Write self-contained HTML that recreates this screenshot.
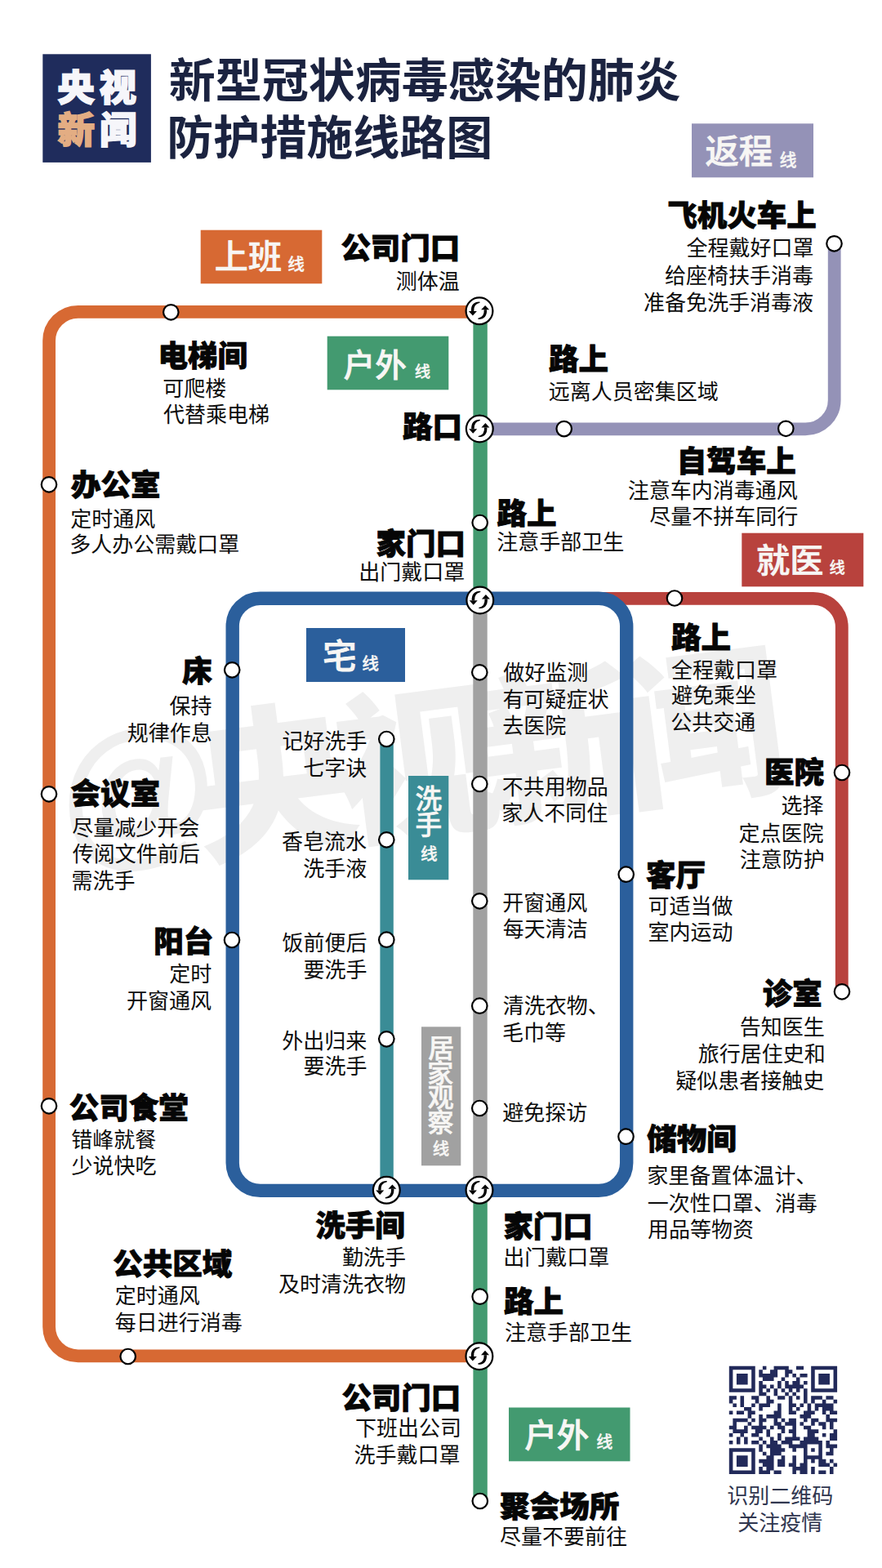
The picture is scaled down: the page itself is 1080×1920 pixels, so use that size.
<!DOCTYPE html>
<html lang="zh-CN">
<head>
<meta charset="utf-8">
<title>新型冠状病毒感染的肺炎防护措施线路图</title>
<style>
html,body{margin:0;padding:0;background:#fff}
body{width:1080px;height:1920px;position:relative;overflow:hidden;font-family:"Liberation Sans",sans-serif}
#map{position:absolute;left:0;top:0;width:1080px;height:1920px;display:block}
#map text{font-family:"Liberation Sans","Noto Sans CJK SC",sans-serif}
#map text.h{font-size:36.5px;font-weight:900;fill:#060606;stroke:#060606;stroke-width:0.88px}
#map text.d{font-size:26px;font-weight:400;fill:#0d0d0d}
#map text.q{font-size:26px;font-weight:400;fill:#30364f}
#map text.l{font-weight:500;fill:#f7f6f4;stroke:#f7f6f4}
#txt{position:absolute;left:0;top:0;width:1080px;height:1920px}
#txt span{position:absolute;white-space:nowrap;color:transparent;font-family:"Liberation Sans",sans-serif}
</style>
</head>
<body>
<svg id="map" width="1080" height="1920" viewBox="0 0 1080 1920" role="img" aria-label="新型冠状病毒感染的肺炎防护措施线路图">
<rect width="1080" height="1920" fill="#fff"/>
<g fill="#efefef"><text transform="translate(80 1046) rotate(-7.3)" font-size="200" font-weight="900">@</text><text transform="translate(245.5 1044.5) rotate(-7.3)" font-size="200" font-weight="900" letter-spacing="-24">央视新闻</text></g>
<path d="M587 732.8H995.8a35 35 0 0 1 35 35V1214" fill="none" stroke="#b8423d" stroke-width="15.8"/>
<path d="M318.7 732.7H733.2a34 34 0 0 1 34 34V1423.9a34 34 0 0 1 -34 34H318.7a34 34 0 0 1 -34 -34V766.7a34 34 0 0 1 34 -34z" fill="none" stroke="#2b5f9c" stroke-width="16.4"/>
<path d="M588 735V1457" fill="none" stroke="#a1a1a1" stroke-width="17.4"/>
<path d="M473.6 905V1457" fill="none" stroke="#3a8c96" stroke-width="16.4"/>
<path d="M588.1 381V735" fill="none" stroke="#439a70" stroke-width="17.4"/>
<path d="M588.1 1457V1838" fill="none" stroke="#439a70" stroke-width="17.4"/>
<path d="M587 381.8H95.6a35.5 35.5 0 0 0 -35.5 35.5V1624.8a35.5 35.5 0 0 0 35.5 35.5H587" fill="none" stroke="#d76933" stroke-width="15.8"/>
<path d="M1021.7 298V489.9a35.5 35.5 0 0 1 -35.5 35.5H587" fill="none" stroke="#9492b7" stroke-width="15.8"/>
<rect x="847" y="151.3" width="149" height="66" fill="#9492b7"/>
<text class="l" x="863.44" y="199.86" font-size="41.43" stroke-width="0.75">返程</text>
<text class="l" x="954.39" y="203.39" font-size="21.02" stroke-width="0.38">线</text>
<rect x="245.7" y="281.7" width="148.6" height="65.6" fill="#d76933"/>
<text class="l" x="262.86" y="328.95" font-size="41.09" stroke-width="0.74">上班</text>
<text class="l" x="352.26" y="331.26" font-size="20.68" stroke-width="0.37">线</text>
<rect x="400.7" y="411.7" width="148.6" height="65.6" fill="#439a70"/>
<text class="l" x="420.49" y="461.32" font-size="38.67" stroke-width="0.7">户外</text>
<text class="l" x="507.71" y="462.11" font-size="19.38" stroke-width="0.35">线</text>
<rect x="908.3" y="652.7" width="149" height="65.6" fill="#b8423d"/>
<text class="l" x="926.06" y="700.64" font-size="41.15" stroke-width="0.74">就医</text>
<text class="l" x="1015.59" y="701.59" font-size="19.33" stroke-width="0.35">线</text>
<rect x="375" y="769" width="121" height="66" fill="#2b5f9c"/>
<text class="l" x="395.04" y="819.31" font-size="41.78" stroke-width="0.75">宅</text>
<text class="l" x="443.21" y="819.91" font-size="20.68" stroke-width="0.37">线</text>
<rect x="623" y="1723.5" width="148.5" height="65.8" fill="#439a70"/>
<text class="l" x="642.17" y="1771.89" font-size="39.64" stroke-width="0.71">户外</text>
<text class="l" x="730.22" y="1772.82" font-size="20.06" stroke-width="0.36">线</text>
<rect x="500" y="950" width="49.3" height="127.3" fill="#3a8c96"/>
<text class="l" x="508.43" y="990.27" font-size="32.69" stroke-width="0.59">洗</text>
<text class="l" x="508.62" y="1021.62" font-size="32.69" stroke-width="0.59">手</text>
<text class="l" x="514.94" y="1052.54" font-size="20.62" stroke-width="0.37">线</text>
<rect x="516" y="1257.3" width="48.3" height="170" fill="#a1a1a1"/>
<text class="l" x="524.13" y="1294.65" font-size="32" stroke-width="0.58">居</text>
<text class="l" x="523.25" y="1325.67" font-size="32" stroke-width="0.58">家</text>
<text class="l" x="523.68" y="1354.78" font-size="32" stroke-width="0.58">观</text>
<text class="l" x="523.55" y="1385.99" font-size="32" stroke-width="0.58">察</text>
<text class="l" x="529.67" y="1413.97" font-size="20.45" stroke-width="0.37">线</text>
<circle cx="209.3" cy="382.3" r="9.25" fill="#fff" stroke="#000" stroke-width="2.2"/>
<circle cx="60" cy="593.3" r="9.25" fill="#fff" stroke="#000" stroke-width="2.2"/>
<circle cx="60" cy="972.3" r="9.25" fill="#fff" stroke="#000" stroke-width="2.2"/>
<circle cx="60" cy="1354.3" r="9.25" fill="#fff" stroke="#000" stroke-width="2.2"/>
<circle cx="156.7" cy="1661" r="9.25" fill="#fff" stroke="#000" stroke-width="2.2"/>
<circle cx="1021.5" cy="298.3" r="9.25" fill="#fff" stroke="#000" stroke-width="2.2"/>
<circle cx="962.3" cy="524.8" r="9.25" fill="#fff" stroke="#000" stroke-width="2.2"/>
<circle cx="690.7" cy="525.1" r="9.25" fill="#fff" stroke="#000" stroke-width="2.2"/>
<circle cx="587.7" cy="640" r="9.25" fill="#fff" stroke="#000" stroke-width="2.2"/>
<circle cx="587.7" cy="1587.7" r="9.25" fill="#fff" stroke="#000" stroke-width="2.2"/>
<circle cx="587.8" cy="1838" r="9.25" fill="#fff" stroke="#000" stroke-width="2.2"/>
<circle cx="826" cy="732.5" r="9.25" fill="#fff" stroke="#000" stroke-width="2.2"/>
<circle cx="1031" cy="946" r="9.25" fill="#fff" stroke="#000" stroke-width="2.2"/>
<circle cx="1031" cy="1214.3" r="9.25" fill="#fff" stroke="#000" stroke-width="2.2"/>
<circle cx="284.2" cy="820.3" r="9.25" fill="#fff" stroke="#000" stroke-width="2.2"/>
<circle cx="284" cy="1151" r="9.25" fill="#fff" stroke="#000" stroke-width="2.2"/>
<circle cx="766.7" cy="1070.7" r="9.25" fill="#fff" stroke="#000" stroke-width="2.2"/>
<circle cx="766.5" cy="1391.7" r="9.25" fill="#fff" stroke="#000" stroke-width="2.2"/>
<circle cx="473.3" cy="905" r="9.25" fill="#fff" stroke="#000" stroke-width="2.2"/>
<circle cx="473.3" cy="1028.3" r="9.25" fill="#fff" stroke="#000" stroke-width="2.2"/>
<circle cx="473.3" cy="1150.7" r="9.25" fill="#fff" stroke="#000" stroke-width="2.2"/>
<circle cx="473.3" cy="1272.3" r="9.25" fill="#fff" stroke="#000" stroke-width="2.2"/>
<circle cx="587.3" cy="823.3" r="9.25" fill="#fff" stroke="#000" stroke-width="2.2"/>
<circle cx="587.3" cy="960" r="9.25" fill="#fff" stroke="#000" stroke-width="2.2"/>
<circle cx="587.3" cy="1103.3" r="9.25" fill="#fff" stroke="#000" stroke-width="2.2"/>
<circle cx="587.3" cy="1231.7" r="9.25" fill="#fff" stroke="#000" stroke-width="2.2"/>
<circle cx="587.3" cy="1357" r="9.25" fill="#fff" stroke="#000" stroke-width="2.2"/>
<defs><g id="ic"><circle r="16.4" fill="#fff" stroke="#000" stroke-width="2.2"/><g id="ar"><path d="M0.4 -11.3Q-10.6 -11.4 -10.1 0.3H-6.7Q-7.4 -8.6 0.6 -10.1z"/><path d="M-13.1 0.3H-3.1L-8.1 5.7z"/></g><use href="#ar" transform="rotate(180 -0.5 -0.6)"/></g></defs>
<use href="#ic" x="587" y="380.8"/>
<use href="#ic" x="587.3" y="525"/>
<use href="#ic" x="587.8" y="735"/>
<use href="#ic" x="473.3" y="1457.3"/>
<use href="#ic" x="587" y="1457.3"/>
<use href="#ic" x="586.9" y="1660.7"/>
<rect x="52.3" y="66.3" width="132.6" height="132.6" fill="#1f2c5c"/>
<text x="70.21" y="124.11" font-size="45.6" font-weight="900" letter-spacing="5.8" fill="#f6f6fa" stroke="#f6f6fa" stroke-width="1.55">央视</text>
<text x="70.58" y="176.21" font-size="45.6" font-weight="900" letter-spacing="5.8" stroke-width="1.55"><tspan fill="#e3ad83" stroke="#e3ad83">新</tspan><tspan fill="#f6f6fa" stroke="#f6f6fa">闻</tspan></text>
<text x="206.82" y="119.1" font-size="57" font-weight="700" fill="#1b2340">新型冠状病毒感染的肺炎</text>
<text x="204.2" y="188.87" font-size="57" font-weight="700" fill="#1b2340">防护措施线路图</text>
<text class="h" x="417.39" y="317.29">公司门口</text>
<text class="d" x="484.74" y="353.57">测体温</text>
<text class="h" x="817.19" y="276.55">飞机火车上</text>
<text class="d" x="840.48" y="313.3">全程戴好口罩</text>
<text class="d" x="814.09" y="346.57">给座椅扶手消毒</text>
<text class="d" x="787.99" y="379.91">准备免洗手消毒液</text>
<text class="h" x="193.58" y="449.37">电梯间</text>
<text class="d" x="199.22" y="484.52">可爬楼</text>
<text class="d" x="200.1" y="516.54">代替乘电梯</text>
<text class="h" x="671.97" y="452.94">路上</text>
<text class="d" x="671.63" y="489.31">远离人员密集区域</text>
<text class="h" x="493.09" y="536.09">路口</text>
<text class="h" x="828.69" y="577.79">自驾车上</text>
<text class="d" x="768.81" y="610.27">注意车内消毒通风</text>
<text class="d" x="795.2" y="641.88">尽量不拼车同行</text>
<text class="h" x="87.12" y="607">办公室</text>
<text class="d" x="86.31" y="644.92">定时通风</text>
<text class="d" x="85.25" y="675.97">多人办公需戴口罩</text>
<text class="h" x="608.57" y="641.79">路上</text>
<text class="d" x="608.18" y="673.11">注意手部卫生</text>
<text class="h" x="460.59" y="678.8">家门口</text>
<text class="d" x="439.18" y="709.8">出门戴口罩</text>
<text class="h" x="223.13" y="835.41">床</text>
<text class="d" x="207.39" y="873.72">保持</text>
<text class="d" x="155.81" y="907.16">规律作息</text>
<text class="d" x="616.21" y="832.7">做好监测</text>
<text class="d" x="615.58" y="866">有可疑症状</text>
<text class="d" x="615.3" y="898.35">去医院</text>
<text class="h" x="821.97" y="793.64">路上</text>
<text class="d" x="821.97" y="830.25">全程戴口罩</text>
<text class="d" x="821.92" y="861.23">避免乘坐</text>
<text class="d" x="821.32" y="893.81">公共交通</text>
<text class="d" x="345.57" y="917.02">记好洗手</text>
<text class="d" x="371.21" y="949.95">七字诀</text>
<text class="d" x="614.8" y="972.68">不共用物品</text>
<text class="d" x="614.34" y="1004.93">家人不同住</text>
<text class="h" x="935.92" y="959.37">医院</text>
<text class="d" x="956.43" y="996.25">选择</text>
<text class="d" x="904.61" y="1029.94">定点医院</text>
<text class="d" x="905.7" y="1061.97">注意防护</text>
<text class="h" x="86.61" y="985.04">会议室</text>
<text class="d" x="88.34" y="1023.17">尽量减少开会</text>
<text class="d" x="88.81" y="1055.23">传阅文件前后</text>
<text class="d" x="87.58" y="1087.87">需洗手</text>
<text class="d" x="344.98" y="1040.37">香皂流水</text>
<text class="d" x="371.29" y="1072.76">洗手液</text>
<text class="h" x="790.9" y="1084.52">客厅</text>
<text class="d" x="793.52" y="1118.57">可适当做</text>
<text class="d" x="793.47" y="1151.27">室内运动</text>
<text class="d" x="615.3" y="1114.59">开窗通风</text>
<text class="d" x="615.63" y="1146.6">每天清洁</text>
<text class="h" x="188.16" y="1166.33">阳台</text>
<text class="d" x="207.34" y="1201.92">定时</text>
<text class="d" x="155.11" y="1234.59">开窗通风</text>
<text class="d" x="345.55" y="1163.76">饭前便后</text>
<text class="d" x="371.57" y="1197.02">要洗手</text>
<text class="h" x="933.86" y="1229.64">诊室</text>
<text class="d" x="905.65" y="1266.76">告知医生</text>
<text class="d" x="854.87" y="1300.39">旅行居住史和</text>
<text class="d" x="827.31" y="1332.69">疑似患者接触史</text>
<text class="d" x="615.76" y="1241.22">清洗衣物、</text>
<text class="d" x="615.09" y="1273.77">毛巾等</text>
<text class="d" x="345.18" y="1283.7">外出归来</text>
<text class="d" x="371.57" y="1315.37">要洗手</text>
<text class="h" x="84.87" y="1369.87">公司食堂</text>
<text class="d" x="87.23" y="1405.19">错峰就餐</text>
<text class="d" x="87.39" y="1436.84">少说快吃</text>
<text class="d" x="615.22" y="1372.06">避免探访</text>
<text class="h" x="792.37" y="1407.85">储物间</text>
<text class="d" x="792.34" y="1449.44">家里备置体温计、</text>
<text class="d" x="792.83" y="1483.19">一次性口罩、消毒</text>
<text class="d" x="793.12" y="1515.38">用品等物资</text>
<text class="h" x="386.22" y="1514.44">洗手间</text>
<text class="d" x="418.97" y="1548.53">勤洗手</text>
<text class="d" x="341.05" y="1581.57">及时清洗衣物</text>
<text class="h" x="616.39" y="1514.6">家门口</text>
<text class="d" x="616.19" y="1548.5">出门戴口罩</text>
<text class="h" x="138.17" y="1561.15">公共区域</text>
<text class="d" x="140.71" y="1596.07">定时通风</text>
<text class="d" x="140.63" y="1628.62">每日进行消毒</text>
<text class="h" x="616.97" y="1607.29">路上</text>
<text class="d" x="617.88" y="1640.66">注意手部卫生</text>
<text class="h" x="418.39" y="1725.09">公司门口</text>
<text class="d" x="434.89" y="1758.38">下班出公司</text>
<text class="d" x="433.38" y="1790.75">洗手戴口罩</text>
<text class="h" x="612.16" y="1858.32">聚会场所</text>
<text class="d" x="612.04" y="1891.18">尽量不要前往</text>
<text class="q" x="890.13" y="1840.55">识别二维码</text>
<text class="q" x="903.3" y="1874.18">关注疫情</text>
<path d="M892.8 1672.8h31.93v4.56h-31.93zM933.86 1672.8h4.56v4.56h-4.56zM947.54 1672.8h18.25v4.56h-18.25zM974.92 1672.8h9.12v4.56h-9.12zM993.17 1672.8h31.93v4.56h-31.93zM892.8 1677.36h4.56v4.56h-4.56zM920.17 1677.36h4.56v4.56h-4.56zM929.3 1677.36h4.56v4.56h-4.56zM942.98 1677.36h9.12v4.56h-9.12zM961.23 1677.36h9.12v4.56h-9.12zM993.17 1677.36h4.56v4.56h-4.56zM1020.54 1677.36h4.56v4.56h-4.56zM892.8 1681.92h4.56v4.56h-4.56zM901.92 1681.92h13.69v4.56h-13.69zM920.17 1681.92h4.56v4.56h-4.56zM929.3 1681.92h22.81v4.56h-22.81zM961.23 1681.92h4.56v4.56h-4.56zM970.36 1681.92h4.56v4.56h-4.56zM979.48 1681.92h9.12v4.56h-9.12zM993.17 1681.92h4.56v4.56h-4.56zM1002.29 1681.92h13.69v4.56h-13.69zM1020.54 1681.92h4.56v4.56h-4.56zM892.8 1686.49h4.56v4.56h-4.56zM901.92 1686.49h13.69v4.56h-13.69zM920.17 1686.49h4.56v4.56h-4.56zM933.86 1686.49h13.69v4.56h-13.69zM956.67 1686.49h4.56v4.56h-4.56zM974.92 1686.49h4.56v4.56h-4.56zM993.17 1686.49h4.56v4.56h-4.56zM1002.29 1686.49h13.69v4.56h-13.69zM1020.54 1686.49h4.56v4.56h-4.56zM892.8 1691.05h4.56v4.56h-4.56zM901.92 1691.05h13.69v4.56h-13.69zM920.17 1691.05h4.56v4.56h-4.56zM929.3 1691.05h4.56v4.56h-4.56zM952.11 1691.05h4.56v4.56h-4.56zM961.23 1691.05h4.56v4.56h-4.56zM970.36 1691.05h9.12v4.56h-9.12zM984.04 1691.05h4.56v4.56h-4.56zM993.17 1691.05h4.56v4.56h-4.56zM1002.29 1691.05h13.69v4.56h-13.69zM1020.54 1691.05h4.56v4.56h-4.56zM892.8 1695.61h4.56v4.56h-4.56zM920.17 1695.61h4.56v4.56h-4.56zM929.3 1695.61h9.12v4.56h-9.12zM942.98 1695.61h4.56v4.56h-4.56zM952.11 1695.61h4.56v4.56h-4.56zM961.23 1695.61h22.81v4.56h-22.81zM993.17 1695.61h4.56v4.56h-4.56zM1020.54 1695.61h4.56v4.56h-4.56zM892.8 1700.17h31.93v4.56h-31.93zM929.3 1700.17h4.56v4.56h-4.56zM938.42 1700.17h4.56v4.56h-4.56zM947.54 1700.17h4.56v4.56h-4.56zM956.67 1700.17h4.56v4.56h-4.56zM965.79 1700.17h4.56v4.56h-4.56zM974.92 1700.17h4.56v4.56h-4.56zM984.04 1700.17h4.56v4.56h-4.56zM993.17 1700.17h31.93v4.56h-31.93zM929.3 1704.73h9.12v4.56h-9.12zM947.54 1704.73h4.56v4.56h-4.56zM961.23 1704.73h4.56v4.56h-4.56zM970.36 1704.73h4.56v4.56h-4.56zM984.04 1704.73h4.56v4.56h-4.56zM892.8 1709.3h9.12v4.56h-9.12zM906.49 1709.3h4.56v4.56h-4.56zM920.17 1709.3h9.12v4.56h-9.12zM938.42 1709.3h4.56v4.56h-4.56zM952.11 1709.3h9.12v4.56h-9.12zM965.79 1709.3h4.56v4.56h-4.56zM974.92 1709.3h4.56v4.56h-4.56zM984.04 1709.3h4.56v4.56h-4.56zM993.17 1709.3h13.69v4.56h-13.69zM1011.41 1709.3h9.12v4.56h-9.12zM892.8 1713.86h4.56v4.56h-4.56zM906.49 1713.86h4.56v4.56h-4.56zM924.73 1713.86h4.56v4.56h-4.56zM938.42 1713.86h9.12v4.56h-9.12zM965.79 1713.86h4.56v4.56h-4.56zM984.04 1713.86h4.56v4.56h-4.56zM993.17 1713.86h4.56v4.56h-4.56zM1006.85 1713.86h4.56v4.56h-4.56zM1020.54 1713.86h4.56v4.56h-4.56zM897.36 1718.42h4.56v4.56h-4.56zM906.49 1718.42h4.56v4.56h-4.56zM920.17 1718.42h4.56v4.56h-4.56zM929.3 1718.42h13.69v4.56h-13.69zM952.11 1718.42h4.56v4.56h-4.56zM965.79 1718.42h9.12v4.56h-9.12zM979.48 1718.42h4.56v4.56h-4.56zM988.6 1718.42h4.56v4.56h-4.56zM997.73 1718.42h22.81v4.56h-22.81zM911.05 1722.98h9.12v4.56h-9.12zM929.3 1722.98h4.56v4.56h-4.56zM952.11 1722.98h4.56v4.56h-4.56zM965.79 1722.98h4.56v4.56h-4.56zM974.92 1722.98h4.56v4.56h-4.56zM988.6 1722.98h4.56v4.56h-4.56zM997.73 1722.98h4.56v4.56h-4.56zM1006.85 1722.98h13.69v4.56h-13.69zM892.8 1727.54h4.56v4.56h-4.56zM901.92 1727.54h9.12v4.56h-9.12zM915.61 1727.54h9.12v4.56h-9.12zM947.54 1727.54h9.12v4.56h-9.12zM965.79 1727.54h9.12v4.56h-9.12zM984.04 1727.54h13.69v4.56h-13.69zM1006.85 1727.54h4.56v4.56h-4.56zM1015.98 1727.54h9.12v4.56h-9.12zM915.61 1732.11h4.56v4.56h-4.56zM929.3 1732.11h4.56v4.56h-4.56zM938.42 1732.11h18.25v4.56h-18.25zM979.48 1732.11h13.69v4.56h-13.69zM1011.41 1732.11h4.56v4.56h-4.56zM897.36 1736.67h18.25v4.56h-18.25zM920.17 1736.67h4.56v4.56h-4.56zM929.3 1736.67h9.12v4.56h-9.12zM947.54 1736.67h4.56v4.56h-4.56zM956.67 1736.67h4.56v4.56h-4.56zM965.79 1736.67h9.12v4.56h-9.12zM984.04 1736.67h4.56v4.56h-4.56zM993.17 1736.67h9.12v4.56h-9.12zM1011.41 1736.67h13.69v4.56h-13.69zM897.36 1741.23h4.56v4.56h-4.56zM915.61 1741.23h4.56v4.56h-4.56zM929.3 1741.23h4.56v4.56h-4.56zM947.54 1741.23h9.12v4.56h-9.12zM961.23 1741.23h13.69v4.56h-13.69zM979.48 1741.23h4.56v4.56h-4.56zM993.17 1741.23h4.56v4.56h-4.56zM1002.29 1741.23h9.12v4.56h-9.12zM1015.98 1741.23h4.56v4.56h-4.56zM892.8 1745.79h9.12v4.56h-9.12zM911.05 1745.79h4.56v4.56h-4.56zM920.17 1745.79h18.25v4.56h-18.25zM942.98 1745.79h4.56v4.56h-4.56zM952.11 1745.79h9.12v4.56h-9.12zM970.36 1745.79h4.56v4.56h-4.56zM984.04 1745.79h9.12v4.56h-9.12zM1006.85 1745.79h4.56v4.56h-4.56zM1015.98 1745.79h4.56v4.56h-4.56zM897.36 1750.36h18.25v4.56h-18.25zM924.73 1750.36h9.12v4.56h-9.12zM938.42 1750.36h4.56v4.56h-4.56zM956.67 1750.36h4.56v4.56h-4.56zM965.79 1750.36h9.12v4.56h-9.12zM988.6 1750.36h13.69v4.56h-13.69zM1020.54 1750.36h4.56v4.56h-4.56zM892.8 1754.92h4.56v4.56h-4.56zM906.49 1754.92h4.56v4.56h-4.56zM920.17 1754.92h9.12v4.56h-9.12zM938.42 1754.92h4.56v4.56h-4.56zM952.11 1754.92h4.56v4.56h-4.56zM970.36 1754.92h4.56v4.56h-4.56zM988.6 1754.92h9.12v4.56h-9.12zM1006.85 1754.92h4.56v4.56h-4.56zM1015.98 1754.92h9.12v4.56h-9.12zM901.92 1759.48h4.56v4.56h-4.56zM911.05 1759.48h4.56v4.56h-4.56zM929.3 1759.48h4.56v4.56h-4.56zM942.98 1759.48h4.56v4.56h-4.56zM952.11 1759.48h4.56v4.56h-4.56zM961.23 1759.48h18.25v4.56h-18.25zM984.04 1759.48h18.25v4.56h-18.25zM1015.98 1759.48h9.12v4.56h-9.12zM892.8 1764.04h4.56v4.56h-4.56zM901.92 1764.04h4.56v4.56h-4.56zM911.05 1764.04h4.56v4.56h-4.56zM920.17 1764.04h9.12v4.56h-9.12zM933.86 1764.04h4.56v4.56h-4.56zM942.98 1764.04h9.12v4.56h-9.12zM956.67 1764.04h13.69v4.56h-13.69zM979.48 1764.04h27.37v4.56h-27.37zM1011.41 1764.04h4.56v4.56h-4.56zM929.3 1768.6h4.56v4.56h-4.56zM938.42 1768.6h18.25v4.56h-18.25zM965.79 1768.6h22.81v4.56h-22.81zM1002.29 1768.6h4.56v4.56h-4.56zM1011.41 1768.6h13.69v4.56h-13.69zM892.8 1773.17h31.93v4.56h-31.93zM929.3 1773.17h4.56v4.56h-4.56zM942.98 1773.17h18.25v4.56h-18.25zM970.36 1773.17h4.56v4.56h-4.56zM984.04 1773.17h4.56v4.56h-4.56zM993.17 1773.17h4.56v4.56h-4.56zM1002.29 1773.17h4.56v4.56h-4.56zM1015.98 1773.17h4.56v4.56h-4.56zM892.8 1777.73h4.56v4.56h-4.56zM920.17 1777.73h4.56v4.56h-4.56zM933.86 1777.73h4.56v4.56h-4.56zM942.98 1777.73h13.69v4.56h-13.69zM984.04 1777.73h4.56v4.56h-4.56zM1002.29 1777.73h4.56v4.56h-4.56zM1011.41 1777.73h9.12v4.56h-9.12zM892.8 1782.29h4.56v4.56h-4.56zM901.92 1782.29h13.69v4.56h-13.69zM920.17 1782.29h4.56v4.56h-4.56zM938.42 1782.29h9.12v4.56h-9.12zM956.67 1782.29h4.56v4.56h-4.56zM970.36 1782.29h4.56v4.56h-4.56zM984.04 1782.29h22.81v4.56h-22.81zM892.8 1786.85h4.56v4.56h-4.56zM901.92 1786.85h13.69v4.56h-13.69zM920.17 1786.85h4.56v4.56h-4.56zM929.3 1786.85h18.25v4.56h-18.25zM952.11 1786.85h9.12v4.56h-9.12zM970.36 1786.85h4.56v4.56h-4.56zM984.04 1786.85h4.56v4.56h-4.56zM993.17 1786.85h4.56v4.56h-4.56zM1002.29 1786.85h9.12v4.56h-9.12zM1015.98 1786.85h4.56v4.56h-4.56zM892.8 1791.41h4.56v4.56h-4.56zM901.92 1791.41h13.69v4.56h-13.69zM920.17 1791.41h4.56v4.56h-4.56zM933.86 1791.41h13.69v4.56h-13.69zM952.11 1791.41h9.12v4.56h-9.12zM965.79 1791.41h9.12v4.56h-9.12zM979.48 1791.41h9.12v4.56h-9.12zM1002.29 1791.41h13.69v4.56h-13.69zM1020.54 1791.41h4.56v4.56h-4.56zM892.8 1795.98h4.56v4.56h-4.56zM920.17 1795.98h4.56v4.56h-4.56zM929.3 1795.98h4.56v4.56h-4.56zM938.42 1795.98h9.12v4.56h-9.12zM970.36 1795.98h18.25v4.56h-18.25zM993.17 1795.98h4.56v4.56h-4.56zM1015.98 1795.98h4.56v4.56h-4.56zM892.8 1800.54h31.93v4.56h-31.93zM929.3 1800.54h13.69v4.56h-13.69zM947.54 1800.54h9.12v4.56h-9.12zM970.36 1800.54h4.56v4.56h-4.56zM979.48 1800.54h9.12v4.56h-9.12zM993.17 1800.54h4.56v4.56h-4.56zM1002.29 1800.54h9.12v4.56h-9.12zM1015.98 1800.54h4.56v4.56h-4.56z" fill="#222a5a"/>
</svg>
<div id="txt">
<span style="left:70.21px;top:83.98px;font-size:45.6px;line-height:45.6px;letter-spacing:5.8px">央视</span>
<span style="left:70.58px;top:136.08px;font-size:45.6px;line-height:45.6px;letter-spacing:5.8px">新闻</span>
<span style="left:206.82px;top:68.94px;font-size:57px;line-height:57px">新型冠状病毒感染的肺炎</span>
<span style="left:204.2px;top:138.71px;font-size:57px;line-height:57px">防护措施线路图</span>
<span style="left:417.39px;top:285.17px;font-size:36.5px;line-height:36.5px">公司门口</span>
<span style="left:484.74px;top:330.69px;font-size:26px;line-height:26px">测体温</span>
<span style="left:817.19px;top:244.43px;font-size:36.5px;line-height:36.5px">飞机火车上</span>
<span style="left:840.48px;top:290.42px;font-size:26px;line-height:26px">全程戴好口罩</span>
<span style="left:814.09px;top:323.69px;font-size:26px;line-height:26px">给座椅扶手消毒</span>
<span style="left:787.99px;top:357.03px;font-size:26px;line-height:26px">准备免洗手消毒液</span>
<span style="left:193.58px;top:417.25px;font-size:36.5px;line-height:36.5px">电梯间</span>
<span style="left:199.22px;top:461.64px;font-size:26px;line-height:26px">可爬楼</span>
<span style="left:200.1px;top:493.66px;font-size:26px;line-height:26px">代替乘电梯</span>
<span style="left:671.97px;top:420.82px;font-size:36.5px;line-height:36.5px">路上</span>
<span style="left:671.63px;top:466.43px;font-size:26px;line-height:26px">远离人员密集区域</span>
<span style="left:493.09px;top:503.97px;font-size:36.5px;line-height:36.5px">路口</span>
<span style="left:828.69px;top:545.67px;font-size:36.5px;line-height:36.5px">自驾车上</span>
<span style="left:768.81px;top:587.39px;font-size:26px;line-height:26px">注意车内消毒通风</span>
<span style="left:795.2px;top:619px;font-size:26px;line-height:26px">尽量不拼车同行</span>
<span style="left:87.12px;top:574.88px;font-size:36.5px;line-height:36.5px">办公室</span>
<span style="left:86.31px;top:622.04px;font-size:26px;line-height:26px">定时通风</span>
<span style="left:85.25px;top:653.09px;font-size:26px;line-height:26px">多人办公需戴口罩</span>
<span style="left:608.57px;top:609.67px;font-size:36.5px;line-height:36.5px">路上</span>
<span style="left:608.18px;top:650.23px;font-size:26px;line-height:26px">注意手部卫生</span>
<span style="left:460.59px;top:646.68px;font-size:36.5px;line-height:36.5px">家门口</span>
<span style="left:439.18px;top:686.92px;font-size:26px;line-height:26px">出门戴口罩</span>
<span style="left:223.13px;top:803.29px;font-size:36.5px;line-height:36.5px">床</span>
<span style="left:207.39px;top:850.84px;font-size:26px;line-height:26px">保持</span>
<span style="left:155.81px;top:884.28px;font-size:26px;line-height:26px">规律作息</span>
<span style="left:616.21px;top:809.82px;font-size:26px;line-height:26px">做好监测</span>
<span style="left:615.58px;top:843.12px;font-size:26px;line-height:26px">有可疑症状</span>
<span style="left:615.3px;top:875.47px;font-size:26px;line-height:26px">去医院</span>
<span style="left:821.97px;top:761.52px;font-size:36.5px;line-height:36.5px">路上</span>
<span style="left:821.97px;top:807.37px;font-size:26px;line-height:26px">全程戴口罩</span>
<span style="left:821.92px;top:838.35px;font-size:26px;line-height:26px">避免乘坐</span>
<span style="left:821.32px;top:870.93px;font-size:26px;line-height:26px">公共交通</span>
<span style="left:345.57px;top:894.14px;font-size:26px;line-height:26px">记好洗手</span>
<span style="left:371.21px;top:927.07px;font-size:26px;line-height:26px">七字诀</span>
<span style="left:614.8px;top:949.8px;font-size:26px;line-height:26px">不共用物品</span>
<span style="left:614.34px;top:982.05px;font-size:26px;line-height:26px">家人不同住</span>
<span style="left:935.92px;top:927.25px;font-size:36.5px;line-height:36.5px">医院</span>
<span style="left:956.43px;top:973.37px;font-size:26px;line-height:26px">选择</span>
<span style="left:904.61px;top:1007.06px;font-size:26px;line-height:26px">定点医院</span>
<span style="left:905.7px;top:1039.09px;font-size:26px;line-height:26px">注意防护</span>
<span style="left:86.61px;top:952.92px;font-size:36.5px;line-height:36.5px">会议室</span>
<span style="left:88.34px;top:1000.29px;font-size:26px;line-height:26px">尽量减少开会</span>
<span style="left:88.81px;top:1032.35px;font-size:26px;line-height:26px">传阅文件前后</span>
<span style="left:87.58px;top:1064.99px;font-size:26px;line-height:26px">需洗手</span>
<span style="left:344.98px;top:1017.49px;font-size:26px;line-height:26px">香皂流水</span>
<span style="left:371.29px;top:1049.88px;font-size:26px;line-height:26px">洗手液</span>
<span style="left:790.9px;top:1052.4px;font-size:36.5px;line-height:36.5px">客厅</span>
<span style="left:793.52px;top:1095.69px;font-size:26px;line-height:26px">可适当做</span>
<span style="left:793.47px;top:1128.39px;font-size:26px;line-height:26px">室内运动</span>
<span style="left:615.3px;top:1091.71px;font-size:26px;line-height:26px">开窗通风</span>
<span style="left:615.63px;top:1123.71px;font-size:26px;line-height:26px">每天清洁</span>
<span style="left:188.16px;top:1134.21px;font-size:36.5px;line-height:36.5px">阳台</span>
<span style="left:207.34px;top:1179.04px;font-size:26px;line-height:26px">定时</span>
<span style="left:155.11px;top:1211.71px;font-size:26px;line-height:26px">开窗通风</span>
<span style="left:345.55px;top:1140.88px;font-size:26px;line-height:26px">饭前便后</span>
<span style="left:371.57px;top:1174.14px;font-size:26px;line-height:26px">要洗手</span>
<span style="left:933.86px;top:1197.52px;font-size:36.5px;line-height:36.5px">诊室</span>
<span style="left:905.65px;top:1243.88px;font-size:26px;line-height:26px">告知医生</span>
<span style="left:854.87px;top:1277.51px;font-size:26px;line-height:26px">旅行居住史和</span>
<span style="left:827.31px;top:1309.81px;font-size:26px;line-height:26px">疑似患者接触史</span>
<span style="left:615.76px;top:1218.34px;font-size:26px;line-height:26px">清洗衣物、</span>
<span style="left:615.09px;top:1250.89px;font-size:26px;line-height:26px">毛巾等</span>
<span style="left:345.18px;top:1260.82px;font-size:26px;line-height:26px">外出归来</span>
<span style="left:371.57px;top:1292.49px;font-size:26px;line-height:26px">要洗手</span>
<span style="left:84.87px;top:1337.75px;font-size:36.5px;line-height:36.5px">公司食堂</span>
<span style="left:87.23px;top:1382.31px;font-size:26px;line-height:26px">错峰就餐</span>
<span style="left:87.39px;top:1413.96px;font-size:26px;line-height:26px">少说快吃</span>
<span style="left:615.22px;top:1349.18px;font-size:26px;line-height:26px">避免探访</span>
<span style="left:792.37px;top:1375.73px;font-size:36.5px;line-height:36.5px">储物间</span>
<span style="left:792.34px;top:1426.56px;font-size:26px;line-height:26px">家里备置体温计、</span>
<span style="left:792.83px;top:1460.31px;font-size:26px;line-height:26px">一次性口罩、消毒</span>
<span style="left:793.12px;top:1492.5px;font-size:26px;line-height:26px">用品等物资</span>
<span style="left:386.22px;top:1482.32px;font-size:36.5px;line-height:36.5px">洗手间</span>
<span style="left:418.97px;top:1525.65px;font-size:26px;line-height:26px">勤洗手</span>
<span style="left:341.05px;top:1558.69px;font-size:26px;line-height:26px">及时清洗衣物</span>
<span style="left:616.39px;top:1482.48px;font-size:36.5px;line-height:36.5px">家门口</span>
<span style="left:616.19px;top:1525.62px;font-size:26px;line-height:26px">出门戴口罩</span>
<span style="left:138.17px;top:1529.03px;font-size:36.5px;line-height:36.5px">公共区域</span>
<span style="left:140.71px;top:1573.19px;font-size:26px;line-height:26px">定时通风</span>
<span style="left:140.63px;top:1605.74px;font-size:26px;line-height:26px">每日进行消毒</span>
<span style="left:616.97px;top:1575.17px;font-size:36.5px;line-height:36.5px">路上</span>
<span style="left:617.88px;top:1617.78px;font-size:26px;line-height:26px">注意手部卫生</span>
<span style="left:418.39px;top:1692.97px;font-size:36.5px;line-height:36.5px">公司门口</span>
<span style="left:434.89px;top:1735.5px;font-size:26px;line-height:26px">下班出公司</span>
<span style="left:433.38px;top:1767.87px;font-size:26px;line-height:26px">洗手戴口罩</span>
<span style="left:612.16px;top:1826.2px;font-size:36.5px;line-height:36.5px">聚会场所</span>
<span style="left:612.04px;top:1868.3px;font-size:26px;line-height:26px">尽量不要前往</span>
<span style="left:890.13px;top:1817.67px;font-size:26px;line-height:26px">识别二维码</span>
<span style="left:903.3px;top:1851.3px;font-size:26px;line-height:26px">关注疫情</span>
<span style="left:863.44px;top:163.41px;font-size:41.43px;line-height:41.43px">返程<small style="font-size:21.02px;margin-left:8.1px">线</small></span>
<span style="left:262.86px;top:292.78px;font-size:41.09px;line-height:41.09px">上班<small style="font-size:20.68px;margin-left:7.21px">线</small></span>
<span style="left:420.49px;top:427.3px;font-size:38.67px;line-height:38.67px">户外<small style="font-size:19.38px;margin-left:9.88px">线</small></span>
<span style="left:926.06px;top:664.42px;font-size:41.15px;line-height:41.15px">就医<small style="font-size:19.33px;margin-left:7.23px">线</small></span>
<span style="left:395.04px;top:782.54px;font-size:41.78px;line-height:41.78px">宅<small style="font-size:20.68px;margin-left:6.38px">线</small></span>
<span style="left:642.17px;top:1737.01px;font-size:39.64px;line-height:39.64px">户外<small style="font-size:20.06px;margin-left:8.77px">线</small></span>
<span style="left:508.53px;top:962.18px;width:32.69px;font-size:32.69px;line-height:31.35px;white-space:normal;word-break:break-all">洗手<small style="display:block;font-size:20.62px;line-height:20.62px;margin-top:9.52px;margin-left:6.41px">线</small></span>
<span style="left:523.65px;top:1267.26px;width:32px;font-size:32px;line-height:30.45px;white-space:normal;word-break:break-all">居家观察<small style="display:block;font-size:20.45px;line-height:20.45px;margin-top:6.93px;margin-left:6.02px">线</small></span>
</div>
</body>
</html>
